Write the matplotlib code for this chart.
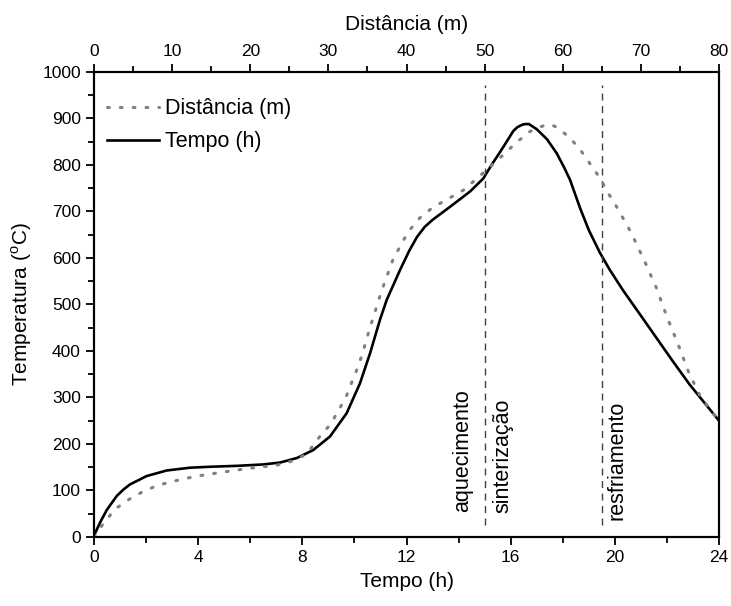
import numpy as np
import matplotlib
matplotlib.use('Agg')
from matplotlib import pyplot as plt
from matplotlib.ticker import MultipleLocator

plt.rcParams['font.family'] = ['Liberation Sans', 'DejaVu Sans']
plt.rcParams['mathtext.fontset'] = 'custom'
plt.rcParams['mathtext.rm'] = 'Liberation Sans'

# curva em função do tempo (h)
tempo_h = [0, 0.04, 0.25, 0.49, 0.87, 1.13, 1.38, 2.02, 2.79, 3.69, 4.45, 5.5, 6.5,
           7.14, 7.8, 8.42, 9.06, 9.7, 10.21, 10.6, 10.98, 11.24, 11.75, 12.1, 12.4,
           12.7, 13.0, 13.67, 14.44, 14.95, 15.1, 15.3, 15.72, 16.1, 16.25, 16.42,
           16.55, 16.7, 17.0, 17.4, 17.77, 18.05, 18.28, 18.66, 19.0, 19.42, 19.8,
           20.32, 21.0, 21.6, 22.2, 22.87, 24]
temp_tempo = [0, 8, 33, 58, 88, 102, 113, 131, 143, 149, 151, 153, 156,
              160, 170, 187, 216, 266, 330, 395, 467, 510, 574, 615, 645,
              667, 682, 710, 743, 771, 785, 803, 839, 873, 881, 886,
              888, 888, 877, 855, 825, 795, 768, 708, 660, 612, 575,
              530, 476, 428, 380, 328, 250]

# curva em função da distância (m)
dist_m = [0, 1.2, 2.7, 4.5, 6.2, 8.0, 9.7, 11.5, 13.2, 16.7, 20.0, 23.3, 25.3, 27.2,
          28.9, 30.3, 31.4, 32.3, 33.0, 33.7, 34.3, 34.8, 35.3, 35.9, 36.4, 37.0,
          38.3, 40.2, 41.7, 43.3, 45.3, 47.3, 48.8, 50.7, 52.4, 54.1, 55.8, 57.6,
          58.4, 59.3, 61.0, 62.4, 63.6, 64.8, 65.8, 66.9, 68.8, 70.5, 72.0, 73.3,
          74.7, 76.1, 77.6, 80]
temp_dist = [0, 29, 60, 81, 97, 110, 118, 125, 131, 140, 148, 154, 163, 178,
             216, 243, 275, 303, 333, 362, 391, 420, 449, 480, 508, 538,
             598, 656, 686, 708, 727, 746, 768, 796, 822, 849, 872, 885,
             887, 881, 857, 829, 800, 771, 740, 710, 653, 592, 535, 475,
             417, 355, 302, 250]

limites_h = [15, 19.5]
etapas = ['aquecimento', 'sinterização', 'resfriamento']
etapas_x = [14.17, 15.7, 20.1]
etapas_y = [54, 51, 37]

fig = plt.figure(figsize=(7.31, 6.06), dpi=100)
ax = fig.add_axes([0.1286, 0.1139, 0.855, 0.7673])
ax2 = ax.twiny()

l_tempo, = ax.plot(tempo_h, temp_tempo, color='black', lw=1.9, label='Tempo (h)')
l_dist, = ax2.plot(dist_m, temp_dist, color='#808080', lw=2.2, linestyle=(0, (0.6, 3.6)),
                   dash_capstyle='round', label='Distância (m)')

for xv in limites_h:
    ax.plot([xv, xv], [26, 972], color='#404040', lw=1.0, linestyle=(0, (5, 4)))

for txt, xv, yv in zip(etapas, etapas_x, etapas_y):
    ax.text(xv, yv, txt, rotation=90, ha='center', va='bottom', fontsize=15.5)

ax.set_xlim(0, 24)
ax.set_ylim(0, 1000)
ax2.set_xlim(0, 80)

ax.xaxis.set_major_locator(MultipleLocator(4))
ax.xaxis.set_minor_locator(MultipleLocator(2))
ax.yaxis.set_major_locator(MultipleLocator(100))
ax.yaxis.set_minor_locator(MultipleLocator(50))
ax2.xaxis.set_major_locator(MultipleLocator(10))
ax2.xaxis.set_minor_locator(MultipleLocator(5))

for a in (ax, ax2):
    a.tick_params(which='major', direction='out', length=6, width=1.3, labelsize=12.5)
    a.tick_params(which='minor', direction='out', length=4, width=1.3)
    for s in a.spines.values():
        s.set_linewidth(1.5)
ax.tick_params(axis='y', which='both', right=False)

ax.set_xlabel('Tempo (h)', fontsize=15, labelpad=5)
ax.set_ylabel('Temperatura ($^{\\mathrm{o}}$C)', fontsize=15, labelpad=6)
ax2.set_xlabel('Distância (m)', fontsize=15, labelpad=10)

ax2.legend(handles=[l_dist, l_tempo], loc='upper left', frameon=False, fontsize=15.5,
           handlelength=2.4, handletextpad=0.3, labelspacing=0.55,
           bbox_to_anchor=(-0.01, 0.985))

fig.savefig('out.png', dpi=100)
